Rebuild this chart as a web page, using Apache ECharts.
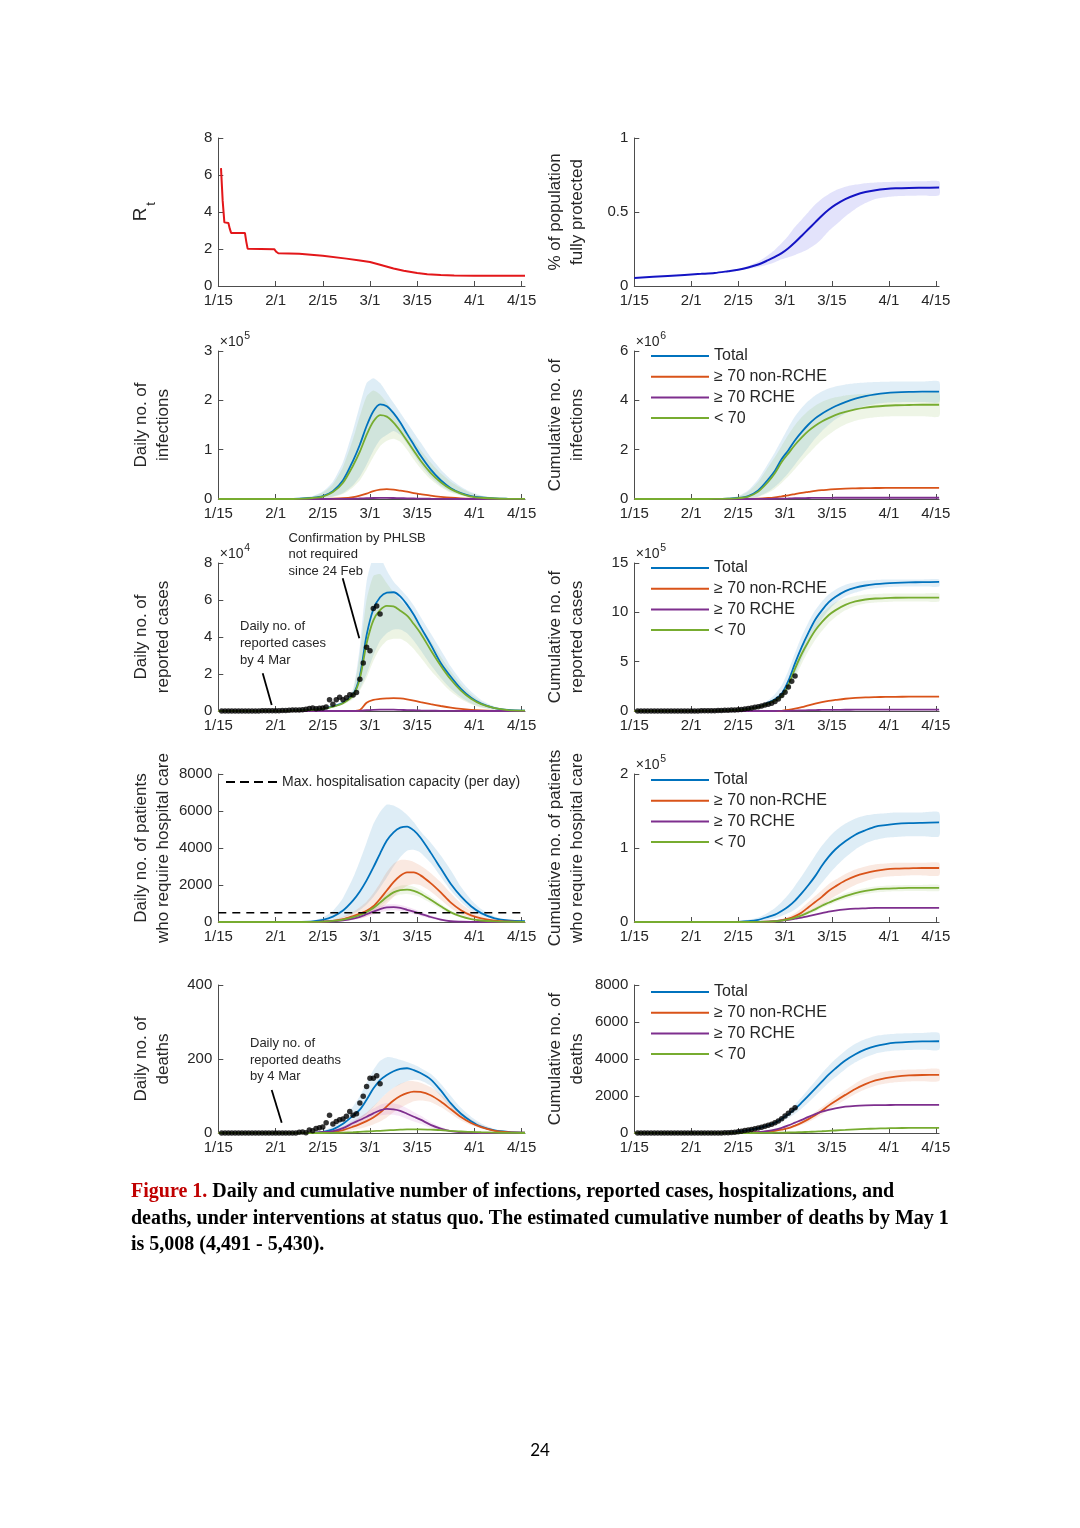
<!DOCTYPE html>
<html><head><meta charset="utf-8">
<script src="https://cdn.jsdelivr.net/npm/echarts@6/dist/echarts.min.js"></script>
<style>html,body{margin:0;padding:0;background:#fff;overflow:hidden}#c{width:1080px;height:1528px}</style>
</head><body><div id="c"></div>
<script>
// ---------- axis ticks (day 0 = 15 Jan) ----------
const xTickDays = [0, 17, 31, 45, 59, 76, 90];
const xTickLabels = ['1/15', '2/1', '2/15', '3/1', '3/15', '4/1', '4/15'];
const seriesNames = ['Total', '≥ 70 non-RCHE', '≥ 70 RCHE', '< 70'];
const capacityName = 'Max. hospitalisation capacity (per day)';
const hospCapacity = 500;

// sampling days for model curves
const days = [0,10,20,24,28,31,34,37,40,42,44,46,48,50,52,54,56,58,60,63,66,69,72,75,78,82,86,91];

// Rt
const rtDays = [0.8,1.3,1.8,3.0,3.4,3.8,7.9,8.3,8.7,16.6,17.2,17.8,24,31,38,42,45,48,52,55,59,62,66,70,76,91];
const rtValues = [6.37,4.6,3.44,3.40,3.1,2.87,2.87,2.4,2.02,1.99,1.85,1.77,1.74,1.63,1.48,1.38,1.3,1.15,0.95,0.82,0.7,0.63,0.59,0.57,0.56,0.56];

// % of population fully protected
const protLine = [0.054,0.068,0.082,0.088,0.100,0.110,0.125,0.145,0.175,0.197,0.222,0.255,0.295,0.340,0.385,0.430,0.475,0.515,0.548,0.587,0.615,0.635,0.647,0.655,0.660,0.663,0.664,0.665];
const protLo = [0.053,0.067,0.081,0.086,0.097,0.105,0.115,0.128,0.145,0.160,0.180,0.195,0.210,0.228,0.250,0.280,0.320,0.370,0.410,0.470,0.520,0.560,0.588,0.600,0.607,0.610,0.612,0.613];
const protHi = [0.055,0.069,0.083,0.090,0.103,0.115,0.135,0.165,0.210,0.245,0.290,0.340,0.400,0.450,0.500,0.550,0.590,0.620,0.645,0.670,0.685,0.695,0.700,0.703,0.705,0.706,0.707,0.707];

// daily infections (x 10^5)
const infTotal = [0,0,0,0.005,0.025,0.06,0.16,0.38,0.78,1.1,1.48,1.78,1.92,1.88,1.74,1.55,1.32,1.1,0.88,0.6,0.38,0.22,0.12,0.06,0.03,0.01,0.004,0.001];
const infNon = [0,0,0,0,0,0.002,0.005,0.015,0.04,0.07,0.11,0.16,0.19,0.2,0.19,0.17,0.15,0.12,0.1,0.07,0.045,0.025,0.013,0.006,0.003,0.001,0,0];
const infRche = [0,0,0,0,0,0,0.001,0.002,0.005,0.01,0.015,0.02,0.022,0.022,0.02,0.017,0.014,0.011,0.008,0.005,0.003,0.001,0,0,0,0,0,0];
const infYoung = [0,0,0,0.004,0.02,0.05,0.14,0.33,0.68,0.96,1.3,1.57,1.7,1.67,1.55,1.38,1.18,0.98,0.78,0.53,0.34,0.2,0.11,0.05,0.025,0.01,0.003,0.001];
const infTotalLo = [0,0,0,0,0.005,0.02,0.05,0.12,0.28,0.45,0.7,0.98,1.2,1.3,1.38,1.3,1.12,0.9,0.7,0.45,0.27,0.15,0.08,0.04,0.02,0.005,0,0];
const infTotalHi = [0,0,0,0.02,0.06,0.15,0.35,0.75,1.4,1.9,2.35,2.45,2.35,2.15,1.95,1.75,1.55,1.35,1.15,0.85,0.6,0.4,0.25,0.14,0.07,0.03,0.01,0];
const infYoungLo = [0,0,0,0,0.004,0.015,0.04,0.1,0.24,0.38,0.6,0.85,1.07,1.18,1.22,1.16,1.0,0.8,0.62,0.4,0.24,0.13,0.07,0.035,0.015,0.004,0,0];
const infYoungHi = [0,0,0,0.015,0.05,0.13,0.3,0.65,1.22,1.68,2.08,2.2,2.12,1.95,1.76,1.56,1.37,1.19,1.0,0.74,0.52,0.35,0.22,0.12,0.06,0.025,0.008,0];

// cumulative infections (x 10^6)
const cinfTotal = [0,0,0,0.002,0.015,0.04,0.12,0.35,0.8,1.15,1.62,1.98,2.38,2.72,3.02,3.27,3.46,3.62,3.76,3.93,4.07,4.17,4.24,4.29,4.32,4.34,4.35,4.35];
const cinfNon = [0,0,0,0,0,0,0.002,0.01,0.04,0.07,0.11,0.15,0.2,0.25,0.29,0.33,0.36,0.38,0.4,0.42,0.43,0.44,0.445,0.45,0.45,0.45,0.45,0.45];
const cinfRche = [0,0,0,0,0,0,0,0.002,0.005,0.01,0.015,0.022,0.03,0.035,0.04,0.043,0.046,0.048,0.05,0.05,0.05,0.05,0.05,0.05,0.05,0.05,0.05,0.05];
const cinfYoung = [0,0,0,0.002,0.012,0.035,0.1,0.3,0.7,1.05,1.5,1.85,2.2,2.5,2.76,2.97,3.14,3.28,3.4,3.53,3.63,3.7,3.75,3.78,3.8,3.81,3.82,3.82];
const cinfTotalLo = [0,0,0,0,0.005,0.015,0.03,0.1,0.3,0.5,0.75,1.05,1.4,1.75,2.1,2.45,2.75,3.0,3.22,3.47,3.65,3.77,3.85,3.9,3.92,3.93,3.93,3.93];
const cinfTotalHi = [0,0,0,0.01,0.04,0.12,0.35,0.8,1.45,1.9,2.4,2.9,3.35,3.7,3.98,4.2,4.36,4.48,4.56,4.64,4.69,4.72,4.74,4.75,4.76,4.76,4.76,4.76];
const cinfYoungLo = [0,0,0,0,0.003,0.01,0.025,0.08,0.25,0.42,0.65,0.92,1.22,1.53,1.83,2.12,2.38,2.6,2.8,3.02,3.17,3.26,3.31,3.34,3.35,3.35,3.35,3.35];
const cinfYoungHi = [0,0,0,0.008,0.03,0.1,0.3,0.7,1.3,1.7,2.15,2.6,3.0,3.32,3.58,3.78,3.93,4.04,4.12,4.2,4.24,4.27,4.29,4.3,4.3,4.3,4.3,4.3];

// daily reported cases (x 10^4)
const repTotal = [0,0,0.01,0.03,0.06,0.12,0.25,0.45,0.9,1.9,4.1,5.5,6.15,6.4,6.42,6.2,5.75,5.2,4.55,3.6,2.6,1.85,1.2,0.72,0.4,0.16,0.06,0.02];
const repNon = [0,0,0,0,0,0,0,0,0,0.05,0.45,0.6,0.65,0.68,0.7,0.68,0.63,0.56,0.48,0.37,0.27,0.18,0.11,0.06,0.03,0.01,0,0];
const repRche = [0,0,0,0,0,0,0,0,0,0.01,0.04,0.06,0.07,0.07,0.07,0.06,0.05,0.04,0.03,0.02,0.01,0.005,0,0,0,0,0,0];
const repYoung = [0,0,0.01,0.03,0.06,0.11,0.23,0.42,0.85,1.75,3.65,4.9,5.45,5.68,5.65,5.42,5.15,4.7,4.2,3.3,2.45,1.7,1.1,0.66,0.37,0.15,0.05,0.02];
const repTotalLo = [0,0,0.01,0.02,0.05,0.1,0.2,0.38,0.7,1.2,2.0,3.0,3.8,4.2,4.4,4.4,4.2,3.8,3.3,2.5,1.8,1.2,0.75,0.42,0.22,0.08,0.03,0.01];
const repTotalHi = [0,0,0.01,0.04,0.08,0.15,0.3,0.55,1.2,3.5,7.0,8.3,8.3,7.6,7.0,6.6,6.2,5.7,5.1,4.2,3.3,2.4,1.65,1.05,0.6,0.25,0.1,0.04];
const repYoungLo = [0,0,0.01,0.02,0.05,0.09,0.18,0.34,0.65,1.1,1.8,2.7,3.4,3.8,3.9,3.9,3.7,3.35,2.9,2.2,1.6,1.05,0.65,0.37,0.18,0.07,0.02,0.01];
const repYoungHi = [0,0,0.01,0.035,0.07,0.14,0.28,0.5,1.1,3.1,6.0,7.3,7.4,6.9,6.4,6.0,5.6,5.1,4.6,3.8,2.95,2.15,1.45,0.9,0.5,0.2,0.07,0.03];

// cumulative reported cases (x 10^5)
const crepTotal = [0,0,0.01,0.03,0.07,0.12,0.22,0.42,0.85,1.2,1.75,3.05,4.85,6.5,7.95,9.25,10.2,11.0,11.55,12.15,12.5,12.72,12.85,12.93,12.98,13.03,13.06,13.08];
const crepNon = [0,0,0,0,0,0,0,0,0,0,0.02,0.12,0.25,0.4,0.58,0.75,0.9,1.03,1.12,1.24,1.32,1.38,1.41,1.43,1.44,1.45,1.45,1.45];
const crepRche = [0,0,0,0,0,0,0,0,0,0,0.01,0.02,0.04,0.06,0.08,0.095,0.11,0.115,0.12,0.125,0.13,0.13,0.13,0.13,0.13,0.13,0.13,0.13];
const crepYoung = [0,0,0.01,0.03,0.06,0.1,0.2,0.38,0.75,1.05,1.5,2.65,4.3,5.8,7.05,8.15,9.0,9.7,10.2,10.75,11.1,11.3,11.4,11.45,11.48,11.5,11.5,11.5];
const crepTotalLo = [0,0,0.01,0.02,0.05,0.1,0.18,0.35,0.7,0.95,1.3,2.2,3.7,5.3,6.8,8.2,9.3,10.2,10.9,11.6,12.0,12.3,12.45,12.55,12.6,12.62,12.62,12.62];
const crepTotalHi = [0,0,0.01,0.04,0.09,0.15,0.27,0.52,1.1,1.7,2.6,4.1,5.9,7.6,9.0,10.2,11.1,11.8,12.3,12.8,13.05,13.2,13.28,13.32,13.33,13.33,13.33,13.33];
const crepYoungLo = [0,0,0.01,0.02,0.04,0.08,0.16,0.3,0.6,0.85,1.2,2.0,3.4,4.8,6.1,7.2,8.1,8.9,9.5,10.2,10.65,10.9,11.0,11.05,11.1,11.1,11.1,11.1];
const crepYoungHi = [0,0,0.01,0.035,0.08,0.13,0.24,0.46,0.95,1.35,1.9,3.3,5.0,6.6,7.9,9.0,9.9,10.5,11.0,11.4,11.65,11.8,11.85,11.9,11.9,11.9,11.9,11.9];

// daily patients requiring hospital care
const hospTotal = [0,0,0,5,30,110,290,620,1170,1650,2250,2950,3700,4400,4850,5100,5160,4950,4550,3750,2900,2050,1380,850,480,200,80,40];
const hospNon = [0,0,0,0,5,20,60,150,320,450,600,850,1250,1700,2150,2500,2680,2680,2520,2100,1600,1050,640,360,200,80,30,12];
const hospRche = [0,0,0,2,5,15,40,90,180,280,420,560,700,790,800,760,660,560,440,270,130,40,15,5,2,0,0,0];
const hospYoung = [0,0,0,0,5,20,60,130,260,380,540,760,1050,1350,1600,1720,1750,1680,1530,1200,850,520,300,160,80,30,10,4];
const hospTotalLo = [0,0,0,0,10,40,100,250,450,650,950,1350,1850,2400,3000,3500,3850,3900,3750,3200,2450,1700,1100,620,340,140,50,20];
const hospTotalHi = [0,0,0,20,80,250,600,1300,2400,3300,4300,5300,5950,6350,6300,6100,5800,5400,4900,4300,3600,2800,1900,1200,700,300,120,50];
const hospNonLo = [0,0,0,0,2,8,25,60,130,200,300,450,700,1000,1350,1700,1950,2050,1980,1650,1200,750,420,220,110,40,15,5];
const hospNonHi = [0,0,0,0,15,50,130,280,550,800,1100,1550,2100,2700,3150,3350,3350,3250,3050,2650,2150,1550,1000,600,330,130,50,20];
const hospRcheLo = [0,0,0,1,2,8,20,50,110,180,290,400,520,610,640,610,520,430,330,190,80,20,6,2,1,0,0,0];
const hospRcheHi = [0,0,0,4,10,28,70,150,280,400,560,720,860,950,960,920,820,700,560,360,190,70,25,10,4,0,0,0];
const hospYoungLo = [0,0,0,0,3,15,45,100,200,300,430,620,870,1140,1370,1480,1520,1460,1330,1030,720,430,240,125,62,22,8,3];
const hospYoungHi = [0,0,0,0,7,25,75,160,320,460,650,900,1230,1560,1830,1960,1980,1900,1730,1380,990,620,360,200,100,38,13,5];

// cumulative patients requiring hospital care (x 10^5)
const chospTotal = [0,0,0,0,0,0.002,0.01,0.03,0.07,0.1,0.15,0.21,0.29,0.39,0.5,0.62,0.76,0.88,0.98,1.09,1.18,1.24,1.29,1.31,1.325,1.335,1.34,1.345];
const chospNon = [0,0,0,0,0,0,0,0.002,0.005,0.01,0.025,0.045,0.08,0.13,0.2,0.27,0.34,0.42,0.48,0.56,0.62,0.66,0.69,0.71,0.72,0.725,0.73,0.73];
const chospRche = [0,0,0,0,0,0,0,0.002,0.005,0.01,0.02,0.03,0.045,0.06,0.08,0.1,0.12,0.14,0.155,0.17,0.18,0.185,0.19,0.19,0.19,0.19,0.19,0.19];
const chospYoung = [0,0,0,0,0,0,0,0.002,0.005,0.01,0.02,0.035,0.06,0.09,0.13,0.17,0.22,0.26,0.3,0.35,0.39,0.42,0.44,0.45,0.455,0.46,0.46,0.46];
const chospTotalLo = [0,0,0,0,0,0,0.003,0.01,0.03,0.05,0.08,0.12,0.17,0.24,0.32,0.42,0.53,0.64,0.74,0.87,0.98,1.06,1.11,1.14,1.15,1.16,1.16,1.16];
const chospTotalHi = [0,0,0,0,0.005,0.01,0.03,0.06,0.13,0.19,0.27,0.37,0.49,0.62,0.76,0.9,1.03,1.14,1.23,1.33,1.4,1.44,1.46,1.47,1.48,1.48,1.48,1.48];
const chospNonLo = [0,0,0,0,0,0,0,0,0.002,0.005,0.012,0.025,0.05,0.08,0.12,0.17,0.23,0.29,0.35,0.43,0.5,0.55,0.59,0.61,0.62,0.63,0.63,0.63];
const chospNonHi = [0,0,0,0,0,0,0,0.005,0.012,0.022,0.04,0.07,0.12,0.19,0.27,0.35,0.43,0.51,0.57,0.65,0.71,0.75,0.78,0.79,0.8,0.8,0.8,0.8];
const chospYoungLo = [0,0,0,0,0,0,0,0.001,0.003,0.007,0.015,0.027,0.047,0.072,0.105,0.14,0.19,0.225,0.265,0.31,0.35,0.38,0.4,0.41,0.415,0.42,0.42,0.42];
const chospYoungHi = [0,0,0,0,0,0,0,0.003,0.007,0.013,0.025,0.045,0.075,0.11,0.155,0.2,0.25,0.295,0.335,0.39,0.43,0.46,0.48,0.49,0.495,0.5,0.5,0.5];

// daily deaths
const deathTotal = [0,0,0,0,0.5,3,10,25,47,63,90,120,143,157,167,173,175,170,162,145,115,80,52,32,17,7,3,1];
const deathNon = [0,0,0,0,0,1,3,8,17,24,32,42,55,72,88,100,108,112,111,102,85,64,43,27,16,6,2,1];
const deathRche = [0,0,0,0,0.5,2,5,13,27,35,44,53,61,65,64,60,52,44,36,22,12,5,2,1,0,0,0,0];
const deathYoung = [0,0,0,0,0,0,0.5,1,2,3,4,5,6,7,8,9,10,10,10,9,8,6,4,3,2,1,0.5,0];
const deathTotalLo = [0,0,0,0,0,1,4,12,28,38,52,70,90,108,122,132,140,144,142,128,100,68,42,25,13,5,2,1];
const deathTotalHi = [0,0,0,0,2,6,18,40,72,100,135,170,195,205,203,198,192,185,176,160,133,100,68,44,26,11,5,2];
const deathNonLo = [0,0,0,0,0,0,1,3,8,12,17,23,31,42,56,68,78,86,88,84,70,52,34,21,12,5,2,1];
const deathNonHi = [0,0,0,0,1,3,8,17,30,42,55,72,90,108,122,133,140,140,136,124,104,80,56,37,22,9,4,1];
const deathRcheLo = [0,0,0,0,0,1,3,8,18,25,32,40,47,50,49,45,38,31,25,14,7,2,1,0,0,0,0,0];
const deathRcheHi = [0,0,0,0,1,3,8,18,34,44,55,66,76,81,80,76,67,57,47,30,17,8,3,1,0,0,0,0];

// cumulative deaths
const cdeathTotal = [0,0,0,2,18,60,150,265,410,550,760,1010,1300,1650,2020,2400,2780,3150,3480,3920,4260,4520,4700,4810,4880,4930,4950,4960];
const cdeathNon = [0,0,0,0,0,5,15,40,80,120,180,260,400,560,750,960,1200,1480,1720,2060,2380,2640,2840,2970,3050,3110,3135,3145];
const cdeathRche = [0,0,0,0,2,8,20,45,110,180,280,410,560,710,870,1020,1150,1250,1330,1420,1470,1495,1505,1510,1515,1515,1515,1515];
const cdeathYoung = [0,0,0,0,0,0,0,2,10,15,20,27,35,47,60,77,95,115,135,165,195,220,240,255,265,272,276,278];
const cdeathTotalLo = [0,0,0,0,10,40,110,210,350,470,620,810,1040,1320,1650,2000,2350,2700,3010,3450,3820,4100,4290,4400,4460,4490,4500,4500];
const cdeathTotalHi = [0,0,0,2,20,65,170,300,450,650,900,1200,1550,1950,2380,2800,3230,3620,3980,4450,4820,5080,5250,5330,5370,5390,5400,5400];
const cdeathNonLo = [0,0,0,0,0,3,10,28,55,85,150,210,310,440,600,790,1000,1260,1480,1800,2110,2370,2560,2680,2750,2790,2800,2810];
const cdeathNonHi = [0,0,0,0,0,8,22,55,110,160,220,320,470,650,880,1130,1400,1680,1950,2320,2680,2980,3190,3320,3390,3430,3450,3460];

// observed data, one value per day from 16 Jan (day 1) to 4 Mar (day 48)
const obsFirstDay = 1;
const caseDaily = [0.002,0.002,0.002,0.003,0.003,0.002,0.003,0.003,0.004,0.005,0.006,0.006,0.008,0.01,
  0.01,0.012,0.014,0.02,0.025,0.03,0.04,0.055,0.06,0.06,0.065,0.1,0.13,0.16,0.12,0.15,
  0.16,0.21,0.61,0.36,0.61,0.75,0.61,0.72,0.88,0.87,1.0,1.71,2.6,3.45,3.26,5.54,5.68,5.25];
const caseCum = [0,0,0,0,0,0,0,0,0,0,0.001,0.001,0.002,0.003,0.004,0.005,0.006,0.008,0.011,0.014,0.018,0.024,0.03,0.036,0.042,0.052,0.065,0.081,0.093,0.108,0.124,0.145,0.206,0.242,0.303,0.378,0.439,0.511,0.599,0.686,0.786,0.957,1.217,1.562,1.888,2.442,3.01,3.535];
const deathDaily = [0,0,0,0,0,0,0,0,0,0,0,0,0,0,0,0,0,0,0,0,0,0,0,
  2,3,1,8,6,12,14,16,28,48,24,31,36,38,45,58,48,52,81,99,126,148,148,155,133];
const deathCum = [0,0,0,0,0,0,0,0,0,0,0,0,0,0,0,0,0,0,0,0,0,0,0,
  2,5,6,14,20,32,46,62,90,138,162,193,229,267,312,370,418,470,551,650,776,924,1072,1227,1360];

// ---------- styling ----------
const FONT = '"Liberation Sans", Arial, Helvetica, sans-serif';
const AX = '#4d4d4d', TXT = '#262626';
const COL = {total:'#0072BD', non:'#D95319', rche:'#7E2F8E', young:'#77AC30'};
const rowTops = [138, 351, 563, 774, 985];
const PH = 148;
const colLeft = [218.3, 634.3], colWidth = [306.7, 304.8];
const yCfg = [[0,8,2],[0,1,0.5],[0,3,1],[0,6,2],[0,8,2],[0,15,5],[0,8000,2000],[0,2,1],[0,400,200],[0,8000,2000]];

const grids = [], xAxes = [], yAxes = [];
for (let i = 0; i < 10; i++) {
  const r = Math.floor(i / 2), c = i % 2;
  grids.push({left: colLeft[c], top: rowTops[r], width: colWidth[c], height: PH, containLabel: false, outerBoundsMode: 'none'});
  xAxes.push({gridIndex: i, type: 'value', min: 0, max: 91,
    axisLine: {show: true, onZero: false, lineStyle: {color: AX, width: 1}},
    axisTick: {show: true, inside: true, length: 5, customValues: xTickDays, lineStyle: {color: AX}},
    axisLabel: {show: true, customValues: xTickDays, fontSize: 15, fontFamily: FONT, color: TXT, margin: 7,
      formatter: v => xTickLabels[xTickDays.indexOf(Math.round(v))] || ''},
    splitLine: {show: false}});
  yAxes.push({gridIndex: i, type: 'value', min: yCfg[i][0], max: yCfg[i][1], interval: yCfg[i][2],
    axisLine: {show: true, lineStyle: {color: AX, width: 1}},
    axisTick: {show: true, inside: true, length: 5, lineStyle: {color: AX}},
    axisLabel: {fontSize: 15, fontFamily: FONT, color: TXT, margin: 6, formatter: v => String(v)},
    splitLine: {show: false}});
}

function pairs(xs, ys) { return xs.map((x, i) => [x, ys[i]]); }
function lineS(gi, name, xs, ys, color, w, smooth) {
  return {type: 'line', name, xAxisIndex: gi, yAxisIndex: gi, data: pairs(xs, ys), symbol: 'none',
    smooth: smooth === undefined ? 0.3 : smooth, clip: true, silent: true, animation: false, z: 3,
    lineStyle: {color, width: w || 1.8}, itemStyle: {color}};
}
function bandS(gi, key, xs, lo, hi, color, op) {
  return {type: 'custom', name: '_band' + gi + key, xAxisIndex: gi, yAxisIndex: gi, silent: true,
    animation: false, clip: true, z: 1, data: [[xs[0], lo[0]]],
    renderItem: function (params, api) {
      const pts = [];
      for (let i = 0; i < xs.length; i++) pts.push(api.coord([xs[i], hi[i]]));
      for (let i = xs.length - 1; i >= 0; i--) pts.push(api.coord([xs[i], lo[i]]));
      return {type: 'polygon', shape: {points: pts, smooth: 0.2}, style: {fill: color, opacity: op}};
    }};
}
function dotS(gi, vals) {
  return {type: 'scatter', name: '_obs' + gi, xAxisIndex: gi, yAxisIndex: gi,
    data: vals.map((v, i) => [obsFirstDay + i, v]), symbol: 'circle', symbolSize: 5.5,
    itemStyle: {color: '#000'}, silent: true, animation: false, z: 5};
}
function four(gi, t, n, r, y) {
  return [lineS(gi, seriesNames[0], days, t, COL.total), lineS(gi, seriesNames[1], days, n, COL.non),
          lineS(gi, seriesNames[2], days, r, COL.rche), lineS(gi, seriesNames[3], days, y, COL.young)];
}

const series = [];
// panel 0: Rt
series.push(lineS(0, 'Rt', rtDays, rtValues, '#E3171A', 2, false));
// panel 1: protected
series.push(bandS(1, 'p', days, protLo, protHi, '#2a2ae0', 0.13));
series.push(lineS(1, 'protected', days, protLine, '#1414C4', 2));
// panel 2
series.push(bandS(2, 't', days, infTotalLo, infTotalHi, COL.total, 0.13));
series.push(bandS(2, 'y', days, infYoungLo, infYoungHi, COL.young, 0.13));
series.push(...four(2, infTotal, infNon, infRche, infYoung));
// panel 3
series.push(bandS(3, 't', days, cinfTotalLo, cinfTotalHi, COL.total, 0.12));
series.push(bandS(3, 'y', days, cinfYoungLo, cinfYoungHi, COL.young, 0.12));
series.push(...four(3, cinfTotal, cinfNon, cinfRche, cinfYoung));
// panel 4
series.push(bandS(4, 't', days, repTotalLo, repTotalHi, COL.total, 0.12));
series.push(bandS(4, 'y', days, repYoungLo, repYoungHi, COL.young, 0.13));
series.push(...four(4, repTotal, repNon, repRche, repYoung));
series.push(dotS(4, caseDaily));
// panel 5
series.push(bandS(5, 't', days, crepTotalLo, crepTotalHi, COL.total, 0.12));
series.push(bandS(5, 'y', days, crepYoungLo, crepYoungHi, COL.young, 0.12));
series.push(...four(5, crepTotal, crepNon, crepRche, crepYoung));
series.push(dotS(5, caseCum));
// panel 6
series.push(bandS(6, 't', days, hospTotalLo, hospTotalHi, COL.total, 0.13));
series.push(bandS(6, 'n', days, hospNonLo, hospNonHi, COL.non, 0.13));
series.push(bandS(6, 'y', days, hospYoungLo, hospYoungHi, COL.young, 0.12));
series.push(bandS(6, 'r', days, hospRcheLo, hospRcheHi, '#c040c0', 0.14));
series.push(...four(6, hospTotal, hospNon, hospRche, hospYoung));
series.push({type: 'line', name: capacityName, xAxisIndex: 6, yAxisIndex: 6,
  data: [[0, hospCapacity], [91, hospCapacity]], symbol: 'none', silent: true, animation: false, z: 4,
  lineStyle: {color: '#000', width: 1.6, type: [8, 6]}, itemStyle: {color: '#000'}});
// panel 7
series.push(bandS(7, 't', days, chospTotalLo, chospTotalHi, COL.total, 0.13));
series.push(bandS(7, 'n', days, chospNonLo, chospNonHi, COL.non, 0.13));
series.push(bandS(7, 'y', days, chospYoungLo, chospYoungHi, COL.young, 0.12));
series.push(...four(7, chospTotal, chospNon, chospRche, chospYoung));
// panel 8
series.push(bandS(8, 't', days, deathTotalLo, deathTotalHi, COL.total, 0.12));
series.push(bandS(8, 'n', days, deathNonLo, deathNonHi, COL.non, 0.12));
series.push(bandS(8, 'r', days, deathRcheLo, deathRcheHi, '#c040c0', 0.12));
series.push(...four(8, deathTotal, deathNon, deathRche, deathYoung));
series.push(dotS(8, deathDaily));
// panel 9
series.push(bandS(9, 't', days, cdeathTotalLo, cdeathTotalHi, COL.total, 0.12));
series.push(bandS(9, 'n', days, cdeathNonLo, cdeathNonHi, COL.non, 0.12));
series.push(...four(9, cdeathTotal, cdeathNon, cdeathRche, cdeathYoung));
series.push(dotS(9, deathCum));

// ---------- legends (plain line icons) ----------
const lineIcon = 'path://M0,0 L58,0 L58,2 L0,2 Z';
const dashIcon = 'path://M0,0h9v2h-9z M14,0h9v2h-9z M28,0h9v2h-9z M42,0h9v2h-9z';
const legBase = {orient: 'vertical', itemWidth: 58, itemHeight: 16, itemGap: 4.7, padding: 0,
  selectedMode: false, icon: lineIcon, textStyle: {fontSize: 16, fontFamily: FONT, color: TXT, lineHeight: 16}};
const legends = [348, 560, 772, 984].map(t => Object.assign({}, legBase, {left: 651, top: t, data: seriesNames}));
legends.push(Object.assign({}, legBase, {left: 226, top: 774, itemWidth: 51, icon: dashIcon, data: [capacityName],
  textStyle: {fontSize: 14, fontFamily: FONT, color: TXT, lineHeight: 16}}));

// ---------- texts ----------
const G = [];
function vtext(x, y, text, size) {
  return {type: 'text', x, y, rotation: Math.PI / 2, silent: true,
    style: {text, font: size + 'px ' + FONT, fill: TXT, textAlign: 'center', textVerticalAlign: 'middle', lineHeight: 22}};
}
function htext(x, y, text, size, align, extra) {
  return Object.assign({type: 'text', x, y, silent: true,
    style: Object.assign({text, font: size + 'px ' + FONT, fill: TXT, textAlign: align || 'left', textVerticalAlign: 'middle'}, extra || {})});
}
// y titles
G.push(vtext(140.5, 214.5, 'R', 19));
G.push(vtext(151, 204, 't', 13));
const titles = [null, '% of population\nfully protected', 'Daily no. of\ninfections', 'Cumulative no. of\ninfections',
  'Daily no. of\nreported cases', 'Cumulative no. of\nreported cases',
  'Daily no. of patients\nwho require hospital care', 'Cumulative no. of patients\nwho require hospital care',
  'Daily no. of\ndeaths', 'Cumulative no. of\ndeaths'];
for (let i = 1; i < 10; i++) {
  const r = Math.floor(i / 2), c = i % 2;
  G.push(vtext(c ? 566 : 152.5, rowTops[r] + PH / 2, titles[i], 17));
}
// exponent labels
function mult(x, top, e) {
  G.push(htext(x + 1.5, top - 8.5, '×10', 14));
  G.push(htext(x + 26, top - 15, e, 10.5));
}
mult(218.3, rowTops[1], '5');
mult(634.3, rowTops[1], '6');
mult(218.3, rowTops[2], '4');
mult(634.3, rowTops[2], '5');
mult(634.3, rowTops[3], '5');
// annotations
G.push(htext(288.5, 554.8, 'Confirmation by PHLSB\nnot required\nsince 24 Feb', 13, 'left', {lineHeight: 16.8}));
G.push(htext(240, 643.3, 'Daily no. of\nreported cases\nby 4 Mar', 13, 'left', {lineHeight: 16.7}));
G.push(htext(250, 1060, 'Daily no. of\nreported deaths\nby 4 Mar', 13, 'left', {lineHeight: 16.7}));
function seg(x1, y1, x2, y2) {
  G.push({type: 'line', silent: true, shape: {x1, y1, x2, y2}, style: {stroke: '#000', lineWidth: 1.8}});
}
seg(342.7, 578.3, 359.3, 638.3);
seg(262.7, 673.3, 271.7, 705);
seg(271.7, 1090, 281.7, 1122.7);
// caption
const CAP = 'bold 20px "Liberation Serif", "Times New Roman", serif';
const capLines = [
  '{r|Figure 1.} Daily and cumulative number of infections, reported cases, hospitalizations, and',
  'deaths, under interventions at status quo. The estimated cumulative number of deaths by May 1',
  'is 5,008 (4,491 - 5,430).'];
[1192, 1218.5, 1245].forEach((y, k) => G.push({type: 'text', x: 131, y, silent: true,
  style: {text: capLines[k], font: CAP, fill: '#000', textAlign: 'left', textVerticalAlign: 'middle',
    rich: {r: {font: CAP, fill: '#C00000', color: '#C00000'}}}}));
G.push({type: 'text', x: 540, y: 1451, silent: true,
  style: {text: '24', font: '17px Lato, "Open Sans", sans-serif', fill: '#000', textAlign: 'center', textVerticalAlign: 'middle'}});

const chart = echarts.init(document.getElementById('c'), null, {renderer: 'canvas'});
chart.setOption({
  backgroundColor: '#ffffff', animation: false, tooltip: {show: false},
  grid: grids, xAxis: xAxes, yAxis: yAxes, legend: legends, series, graphic: {elements: G}
});
</script></body></html>
